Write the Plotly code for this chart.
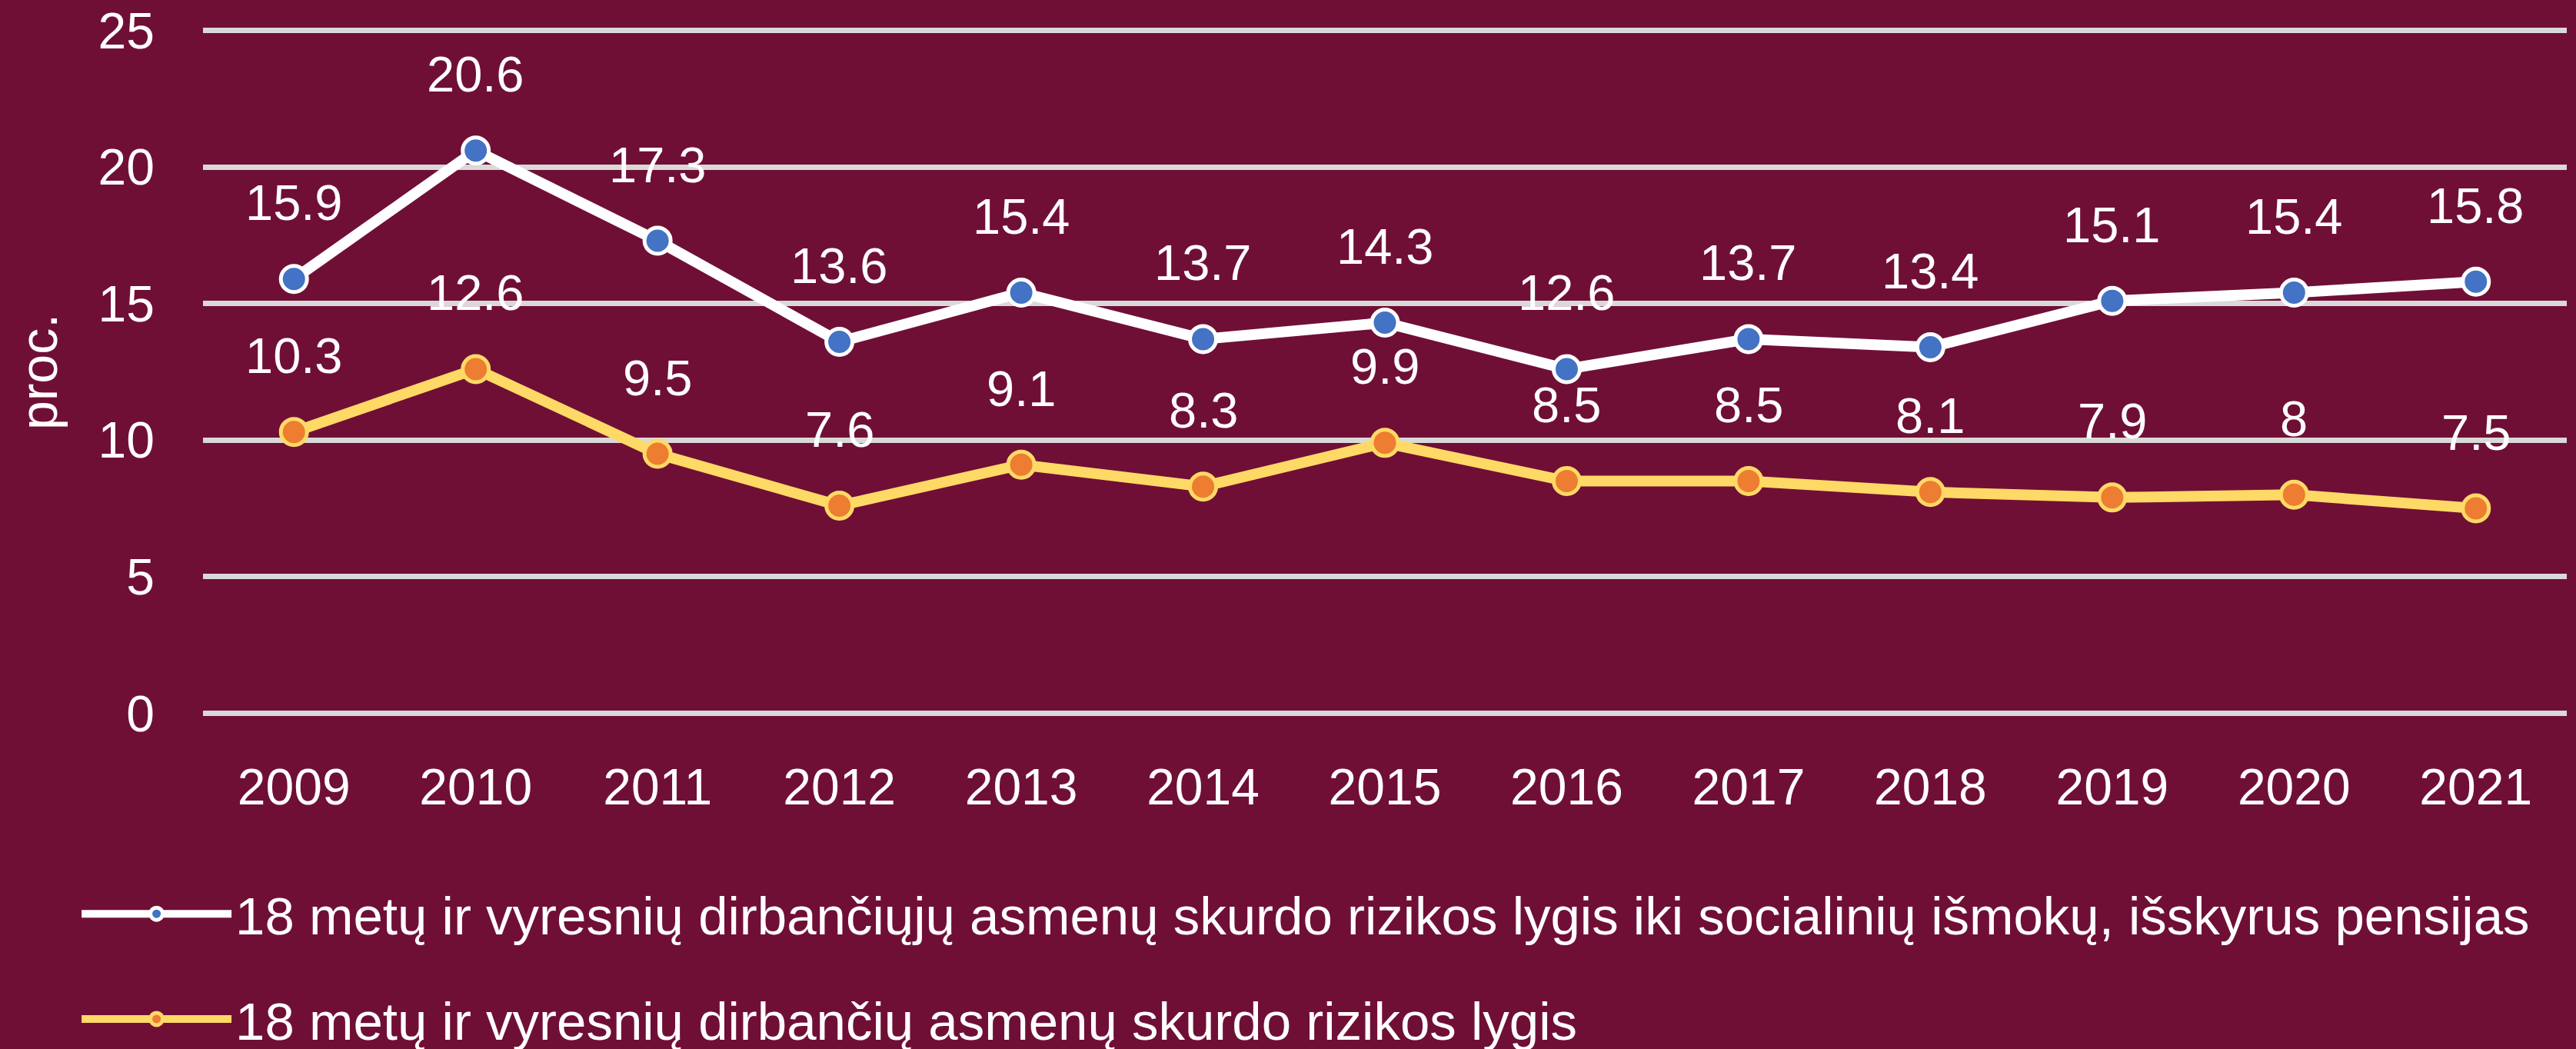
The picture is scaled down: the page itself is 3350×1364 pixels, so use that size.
import plotly.graph_objects as go

# data
years = ["2009", "2010", "2011", "2012", "2013", "2014", "2015",
         "2016", "2017", "2018", "2019", "2020", "2021"]
before_transfers = [15.9, 20.6, 17.3, 13.6, 15.4, 13.7, 14.3,
                    12.6, 13.7, 13.4, 15.1, 15.4, 15.8]
after_transfers = [10.3, 12.6, 9.5, 7.6, 9.1, 8.3, 9.9,
                   8.5, 8.5, 8.1, 7.9, 8, 7.5]
name_before = ("18 metų ir vyresnių dirbančiųjų asmenų skurdo rizikos lygis "
               "iki socialinių išmokų, išskyrus pensijas")
name_after = "18 metų ir vyresnių dirbančių asmenų skurdo rizikos lygis"
y_ticks = [0, 5, 10, 15, 20, 25]

BG = "#700F36"
GRID = "#D9D9D9"
FONT = "Liberation Sans"

fig = go.Figure()
fig.add_trace(go.Scatter(
    x=years, y=before_transfers, name=name_before, mode="lines+markers",
    legendgroup="a",
    line=dict(color="white", width=14),
    marker=dict(size=34, color="#4472C4", line=dict(color="white", width=5)),
))
fig.add_trace(go.Scatter(
    x=years, y=after_transfers, name=name_after, mode="lines+markers",
    legendgroup="b",
    line=dict(color="#FFD966", width=14),
    marker=dict(size=34, color="#ED7D31", line=dict(color="#FFD966", width=5)),
))

# value labels above points (x as category index)
for series in (before_transfers, after_transfers):
    for i, v in enumerate(series):
        fig.add_annotation(x=i, y=v, text=f"{v:g}", showarrow=False,
                           yanchor="middle", yshift=99,
                           font=dict(family=FONT, size=65, color="white"))

fig.update_layout(
    width=3350, height=1364,
    paper_bgcolor=BG, plot_bgcolor=BG,
    margin=dict(l=264, r=12, t=36, b=433, autoexpand=False),
    font=dict(family=FONT, color="white", size=65),
    showlegend=True,
    legend=dict(
        orientation="v", x=-0.053, xanchor="left", y=-0.23, yanchor="top",
        font=dict(family=FONT, size=69, color="white"),
        tracegroupgap=44, bgcolor="rgba(0,0,0,0)", itemwidth=195,
    ),
)
fig.update_xaxes(
    type="category", range=[-0.5, 12.5], showgrid=False, zeroline=False,
    showline=False, ticks="", ticklabelstandoff=48,
    tickfont=dict(family=FONT, size=66, color="white"),
)
fig.update_yaxes(
    range=[-0.1, 25.1], tickvals=y_ticks, showgrid=True, gridcolor=GRID,
    gridwidth=7, zeroline=False, showline=False, ticks="",
    ticklabelstandoff=62,
    tickfont=dict(family=FONT, size=66, color="white"),
    title=dict(text="proc.", font=dict(family=FONT, size=68, color="white"),
               standoff=30),
)

# drop the default page margin so the figure fills the window
fig.write_html("out.html", config={"displayModeBar": False},
               post_script="document.body.style.margin='0';")
